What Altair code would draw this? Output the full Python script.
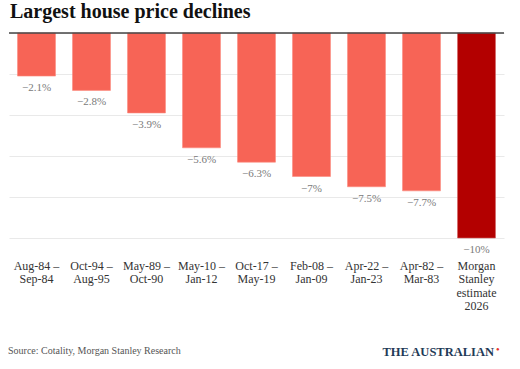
import altair as alt
import pandas as pd

periods = ["Aug-84 –\nSep-84", "Oct-94 –\nAug-95", "May-89 –\nOct-90", "May-10 –\nJan-12",
           "Oct-17 –\nMay-19", "Feb-08 –\nJan-09", "Apr-22 –\nJan-23", "Apr-82 –\nMar-83",
           "Morgan\nStanley\nestimate\n2026"]
declines = [-2.1, -2.8, -3.9, -5.6, -6.3, -7.0, -7.5, -7.7, -10.0]
value_labels = ["−2.1%", "−2.8%", "−3.9%", "−5.6%", "−6.3%", "−7%", "−7.5%", "−7.7%", "−10%"]
is_estimate = [False] * 8 + [True]
grid_values = [0, -2, -4, -6, -8, -10]

df = pd.DataFrame({"period": periods, "decline": declines, "label": value_labels,
                   "estimate": is_estimate})

serif = "Liberation Serif"

x = alt.X("period:N", sort=None, title=None,
          scale=alt.Scale(paddingInner=0.31, paddingOuter=0.155),
          axis=alt.Axis(labelExpr="split(datum.label, '\\n')", labelAngle=0,
                        labelFont=serif, labelFontSize=12, labelColor="#333333",
                        labelLineHeight=13.5, labelPadding=22, labelBaseline="top",
                        ticks=False, domain=False, grid=False))
y = alt.Y("decline:Q", title=None,
          scale=alt.Scale(domain=[-10, 0], nice=False),
          axis=alt.Axis(values=grid_values, labels=False, ticks=False, domain=False,
                        grid=True, gridColor="#e9e9e9", gridWidth=1))

bars = alt.Chart(df).mark_bar(strokeWidth=1, strokeOpacity=0.6).encode(
    x=x, y=y, y2=alt.datum(0),
    color=alt.Color("estimate:N", scale=alt.Scale(domain=[False, True],
                                                   range=["#F76456", "#B30000"]), legend=None),
    stroke=alt.Stroke("estimate:N", scale=alt.Scale(domain=[False, True],
                                                    range=["#FB8A7E", "#D06060"]), legend=None),
)

labels = alt.Chart(df).mark_text(baseline="top", dy=6, font=serif, fontSize=11,
                                 color="#7a7a7a").encode(
    x=alt.X("period:N", sort=None), y="decline:Q", text="label:N")

zero = alt.Chart(pd.DataFrame({"v": [0]})).mark_rule(color="#444444", strokeWidth=1.5).encode(
    y="v:Q", x=alt.value(0), x2=alt.value(495))

source = alt.Chart(pd.DataFrame({"t": ["Source: Cotality, Morgan Stanley Research"]})).mark_text(
    align="left", baseline="alphabetic", font=serif, fontSize=10, color="#555555").encode(
    x=alt.value(-1), y=alt.value(321), text="t:N")

logo = alt.Chart(pd.DataFrame({"t": ["THE AUSTRALIAN"]})).mark_text(
    align="right", baseline="alphabetic", font=serif, fontSize=12.5, fontWeight="bold",
    color="#1F3B57").encode(
    x=alt.value(485), y=alt.value(323), text="t:N")

logo_mark = alt.Chart(pd.DataFrame({"t": ["●"]})).mark_text(
    align="left", baseline="middle", fontSize=6, color="#E8322B").encode(
    x=alt.value(487), y=alt.value(316), text="t:N")

chart = alt.layer(bars, labels, zero, source, logo, logo_mark).properties(
    width=495, height=205,
    padding={"left": 9, "top": 33, "right": 16, "bottom": 131},
    autosize=alt.AutoSizeParams(type="none"),
    title=alt.TitleParams("Largest house price declines", anchor="start", frame="group",
                          font=serif, fontSize=20, fontWeight="bold", color="#111111",
                          offset=10, dx=1),
).configure_view(stroke=None)

chart.save("out.html", embed_options={"renderer": "svg", "actions": False})
